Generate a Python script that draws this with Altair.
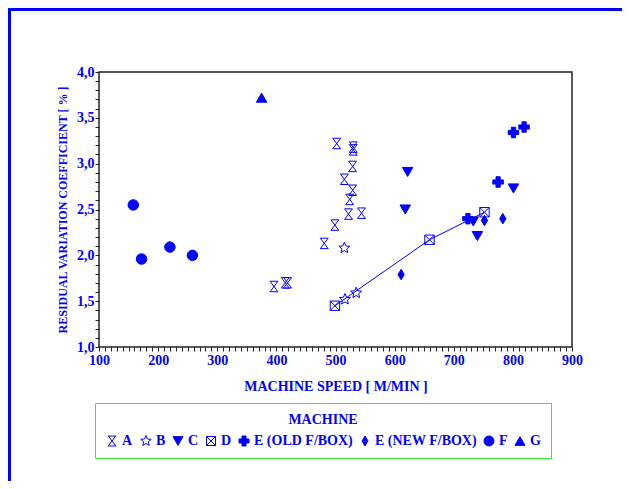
import math
import pandas as pd
import altair as alt

# Values, one pair of lists per machine
machines = ["A", "B", "C", "D", "E (OLD F/BOX)", "E (NEW F/BOX)", "F", "G"]

speed_a = [502, 530, 530, 529, 515, 529, 524, 522, 544, 499, 481, 396, 415, 419]
cv_a = [3.22, 3.18, 3.15, 2.97, 2.83, 2.71, 2.61, 2.45, 2.46, 2.33, 2.13, 1.66, 1.70, 1.70]
speed_b = [515, 516, 535]
cv_b = [2.08, 1.52, 1.59]
speed_c = [622, 618, 733, 740, 801]
cv_c = [2.91, 2.50, 2.37, 2.21, 2.73]
speed_d = [499, 659, 752]
cv_d = [1.45, 2.17, 2.47]
speed_e_old = [724, 775, 801, 819]
cv_e_old = [2.40, 2.80, 3.34, 3.40]
speed_e_new = [611, 752, 783]
cv_e_new = [1.79, 2.38, 2.40]
speed_f = [158, 172, 220, 258]
cv_f = [2.55, 1.96, 2.09, 2.00]
speed_g = [375]
cv_g = [3.72]

# axis tick positions (labels only on the major ones)
x_tick_values = list(range(100, 901, 10))
y_tick_values = [round(1 + i * 0.1, 1) for i in range(31)]

speeds = [speed_a, speed_b, speed_c, speed_d, speed_e_old, speed_e_new, speed_f, speed_g]
cvs = [cv_a, cv_b, cv_c, cv_d, cv_e_old, cv_e_new, cv_f, cv_g]

rows = []
for m, xs, ys in zip(machines, speeds, cvs):
    for x, y in zip(xs, ys):
        rows.append({"machine": m, "speed": x, "cv": y})
data = pd.DataFrame(rows)
line_data = data[data["machine"] == "D"].sort_values("speed")

BLUE = "#0000ff"
DARK = "#222222"
FONT = "Liberation Serif"
W, H = 473, 275

# marker shapes (unit square -1..1)
hourglass = "M-0.75,-1L0.75,-1L-0.75,1L0.75,1Z"
star_pts = []
for k in range(10):
    r = 1.0 if k % 2 == 0 else 0.45
    a = math.radians(-90 + 36 * k)
    star_pts.append(f"{1.1 * r * math.cos(a):.3f},{1.1 * r * math.sin(a):.3f}")
star = "M" + "L".join(star_pts) + "Z"
box_x = "M-0.9,-0.9H0.9V0.9H-0.9Z M-0.9,-0.9L0.9,0.9 M0.9,-0.9L-0.9,0.9"
diamond = "M0,-1L0.6,0L0,1L-0.6,0Z"

shape_range = [hourglass, star, "triangle-down", box_x, "cross", diamond, "circle", "triangle-up"]
fill_range = ["transparent", "transparent", BLUE, "transparent", BLUE, BLUE, BLUE, BLUE]
stroke_range = [BLUE] * len(machines)

x_scale = alt.Scale(domain=[100, 900], nice=False, zero=False)
y_scale = alt.Scale(domain=[1.0, 4.0], nice=False, zero=False)

axis_style = dict(labelFont=FONT, labelFontWeight="bold", labelFontSize=14,
                  labelColor=BLUE, titleFont=FONT, titleFontWeight="bold",
                  titleColor=BLUE, grid=False, domain=False, ticks=True,
                  tickColor=DARK, tickWidth=1, tickSize=4,
                  labelFlush=False, labelOverlap=False)

x_axis = alt.Axis(orient="bottom", title="MACHINE SPEED  [ M/MIN ]", titleFontSize=14,
                  values=x_tick_values, labelPadding=2, titlePadding=12,
                  labelExpr="datum.value % 100 === 0 ? datum.value : ''", **axis_style)
y_axis = alt.Axis(orient="left", title="RESIDUAL VARIATION COEFFICIENT  [ % ]",
                  titleFontSize=12, values=y_tick_values, labelPadding=1, titlePadding=7,
                  labelExpr="abs(datum.value * 2 - round(datum.value * 2)) < 0.001 ? "
                            "replace(format(datum.value, '.1f'), '.', ',') : ''",
                  **axis_style)

points = alt.Chart(data).mark_point(size=110, strokeWidth=1, opacity=1).encode(
    x=alt.X("speed:Q", scale=x_scale, axis=x_axis),
    y=alt.Y("cv:Q", scale=y_scale, axis=y_axis),
    shape=alt.Shape("machine:N", scale=alt.Scale(domain=machines, range=shape_range),
                    title="MACHINE"),
    fill=alt.Fill("machine:N", scale=alt.Scale(domain=machines, range=fill_range),
                  title="MACHINE"),
    stroke=alt.Stroke("machine:N", scale=alt.Scale(domain=machines, range=stroke_range),
                      title="MACHINE"),
)

line = alt.Chart(line_data).mark_line(color=BLUE, strokeWidth=1).encode(
    x=alt.X("speed:Q", scale=x_scale, axis=x_axis),
    y=alt.Y("cv:Q", scale=y_scale, axis=y_axis),
)

# blue frame around the figure
frame_left = alt.Chart().mark_rect(color=BLUE).encode(
    x=alt.value(-91), x2=alt.value(-88), y=alt.value(-64), y2=alt.value(420))
frame_top = alt.Chart().mark_rect(color=BLUE).encode(
    x=alt.value(-91), x2=alt.value(530), y=alt.value(-64), y2=alt.value(-61))

chart = alt.layer(
    points, line, frame_left, frame_top,
).properties(
    width=W, height=H,
    padding={"left": 91, "top": 64, "right": 50, "bottom": 134},
    autosize=alt.AutoSizeParams(type="none"),
).configure_view(
    stroke=DARK, strokeWidth=1.5
).configure_legend(
    orient="none", legendX=-4, legendY=331, direction="horizontal", columns=8,
    strokeColor="#33ee33", strokeWidth=1, padding=10,
    titleFont=FONT, titleFontWeight="bold", titleFontSize=14, titleColor=BLUE,
    titleAnchor="middle", titleAlign="center", titlePadding=7,
    labelFont=FONT, labelFontWeight="bold", labelFontSize=14, labelColor=BLUE,
    labelOffset=3, columnPadding=5, symbolSize=100, symbolStrokeWidth=1,
)

chart.save("out.html", embed_options={"renderer": "svg", "actions": False})
